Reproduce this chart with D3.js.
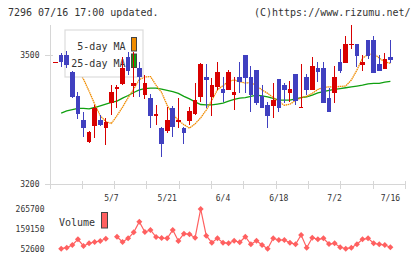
<!DOCTYPE html>
<html><head><meta charset="utf-8">
<script src="https://cdn.jsdelivr.net/npm/d3@7"></script>
<style>body{margin:0;background:#fff}svg{display:block}text{font-family:"DejaVu Sans Mono",monospace}</style>
</head><body><svg width="420" height="259"></svg>
<script>
const titleText = "7296 07/16 17:00 updated.";
const creditText = "(C)https://www.rizumu.net/";
const dates = ["4/18","4/21","4/22","4/23","4/24","4/25","4/28","4/30","5/1","5/2",
 "5/7","5/8","5/9","5/12","5/13","5/14","5/15","5/16","5/19","5/20",
 "5/21","5/22","5/23","5/26","5/27","5/28","5/29","5/30","6/2","6/3",
 "6/4","6/5","6/6","6/9","6/10","6/11","6/12","6/13","6/16","6/17",
 "6/18","6/19","6/20","6/23","6/24","6/25","6/26","6/27","6/30","7/1",
 "7/2","7/3","7/4","7/7","7/8","7/9","7/10","7/11","7/14","7/15","7/16"];
const open  = [3483,3500,3500,3461,3405,3349,3298,3334,3350,3330, 3388,3420,3433,3496,3429,3469,3407,3400,3359,3331,
 3323,3378,3345,3330,3347,3363,3403,3450,3403,3425, 3421,3419,3407,3450,3500,3450,3465,3405,3384,3382,
 3444,3430,3411,3456,3379,3450,3419,3470,3469,3401, 3412,3483,3482,3525,3526,3477,3535,3535,3479,3467,3495];
const high  = [3483,3505,3509,3463,3415,3368,3324,3384,3360,3353, 3430,3430,3495,3507,3508,3484,3453,3409,3384,3333,
 3380,3381,3401,3333,3380,3434,3481,3479,3446,3484, 3450,3465,3450,3484,3500,3475,3465,3430,3391,3434,
 3444,3434,3440,3456,3479,3457,3496,3484,3484,3423, 3474,3514,3544,3570,3526,3500,3535,3544,3500,3505,3535];
const low   = [3483,3472,3470,3400,3351,3310,3296,3307,3336,3290, 3360,3376,3430,3453,3403,3403,3398,3330,3337,3263,
 3318,3309,3330,3293,3337,3360,3390,3377,3359,3419, 3390,3419,3372,3411,3411,3368,3384,3377,3330,3354,
 3368,3388,3390,3384,3379,3407,3419,3438,3389,3368, 3389,3459,3482,3513,3473,3463,3490,3459,3463,3467,3481];
const close = [3483,3483,3477,3403,3364,3330,3322,3376,3338,3345, 3415,3426,3470,3464,3436,3448,3436,3359,3364,3293,
 3349,3333,3350,3319,3370,3395,3479,3443,3430,3461, 3412,3461,3415,3438,3447,3407,3389,3377,3359,3395,
 3377,3419,3421,3393,3379,3419,3475,3460,3389,3368, 3448,3463,3526,3525,3498,3484,3498,3459,3463,3490,3488];
const ma5 = [null,null,3479,3475,3465,3444,3416,3386,3359,3345, 3341,3359,3379,3401,3421,3443,3449,3450,3430,3413,
 3383,3363,3348,3338,3330,3340,3354,3372,3395,3419, 3429,3439,3442,3438,3435,3436,3428,3419,3411,3401,
 3392,3383,3386,3394,3401,3404,3411,3420,3425,3426, 3426,3427,3428,3442,3465,3493,3501,3504,3493,3484,3481];
const ma25 = [null,3365,3370,3373,3376,3376,3375,3378,3382,3386, 3390,3393,3400,3406,3413,3419,3422,3423,3423,3421,
 3418,3415,3411,3404,3398,3391,3385,3384,3384,3386, 3388,3393,3397,3400,3401,3404,3407,3405,3403,3399,
 3395,3395,3395,3398,3401,3403,3407,3412,3415,3418, 3420,3422,3424,3426,3428,3430,3433,3434,3434,3437,3439];
const volume = [null,52600,58000,72500,103000,67100,81600,88600,94000,106300, null,117000,88600,108400,140600,197500,142200,153000,115400,110000,
 108400,153000,94000,133100,129900,111600,265700,122400,84800,108400, 84800,81600,95500,87000,117000,76200,95500,72500,52600,108400,
 99300,99300,84800,76200,126100,58000,111600,103000,108400,77800, 81600,60100,52600,58000,76200,103000,108400,81600,76200,72500,60100];
const priceTicks = [3200, 3500];
const dateLabels = ["5/7","5/21","6/4","6/18","7/2","7/16"];
const legendNames = ["5-day MA","25-day MA"];

const svg = d3.select("svg");
const axisColor = "#d6d6d6", textColor = "#333";
const x = d3.scalePoint().domain(dates).range([55.6, 390.4]);
const y = d3.scaleLinear().domain([3200, 3570]).range([184, 25]);
const vMin = d3.min(volume), vMax = d3.max(volume);
const yv = d3.scaleLinear().domain([vMin, vMax]).range([248.7, 209]);
const tickPos = d3.scaleLinear().domain([0, 11]).range([50, 405.3]);

// header
svg.append("text").attr("x", 8).attr("y", 16).attr("font-size", 10).attr("fill", textColor).text(titleText);
svg.append("text").attr("x", 410.5).attr("y", 16).attr("font-size", 10).attr("fill", textColor).attr("text-anchor", "end").text(creditText);

// axes
const ax = svg.append("g").attr("stroke", axisColor).attr("shape-rendering", "crispEdges");
ax.append("line").attr("x1", 50).attr("x2", 50).attr("y1", 25).attr("y2", 189);
ax.append("line").attr("x1", 45).attr("x2", 405.3).attr("y1", y(3200)).attr("y2", y(3200));
ax.selectAll(".xt").data(d3.range(12)).join("line").attr("x1", d => tickPos(d)).attr("x2", d => tickPos(d)).attr("y1", 181).attr("y2", 189);
ax.selectAll(".yt").data(priceTicks).join("line").attr("x1", 45).attr("x2", 53).attr("y1", d => y(d)).attr("y2", d => y(d));
svg.selectAll(".yl").data(priceTicks).join("text").attr("x", 39.5).attr("y", d => y(d)).attr("dy", "0.35em")
  .attr("text-anchor", "end").attr("font-size", 8).attr("fill", textColor).text(d => d);
svg.selectAll(".xl").data(dateLabels).join("text").attr("x", d => x(d)).attr("y", 201)
  .attr("text-anchor", "middle").attr("font-size", 8).attr("fill", textColor).text(d => d);

// MA lines
const mkLine = arr => d3.line().defined(d => d != null).x((d, i) => x(dates[i])).y(d => y(d))(arr);
svg.append("path").attr("d", mkLine(ma25)).attr("fill", "none").attr("stroke", "#10a010").attr("stroke-width", 1.3);
svg.append("path").attr("d", mkLine(ma5)).attr("fill", "none").attr("stroke", "#f08c00").attr("stroke-width", 1.3).attr("stroke-dasharray", "1.5,0.6");

// legend
svg.append("rect").attr("x", 65).attr("y", 30).attr("width", 78).attr("height", 47).attr("fill", "#fff").attr("stroke", "#dcdcdc").attr("stroke-width", 1.2);
const legColors = ["#f08c00", "#10a010"];
legendNames.forEach((n, k) => {
  svg.append("text").attr("x", 125.5).attr("y", 50 + k * 17).attr("text-anchor", "end").attr("font-size", 10).attr("fill", textColor).text(n);
  svg.append("rect").attr("x", 131.5).attr("y", 37.5 + k * 16.5).attr("width", 5).attr("height", 13.5)
    .attr("fill", legColors[k]).attr("stroke", "#444").attr("stroke-width", 1);
});

// candles
const idx = d3.range(dates.length);
const cw = 4.6;
const cg = svg.append("g").attr("shape-rendering", "crispEdges");
cg.selectAll(".w").data(idx).join("line")
  .attr("x1", i => x(dates[i])).attr("x2", i => x(dates[i]))
  .attr("y1", i => y(high[i])).attr("y2", i => y(low[i]))
  .attr("stroke", i => close[i] >= open[i] ? "#d80000" : "#4040c0").attr("stroke-width", 1);
cg.selectAll(".b").data(idx).join("rect")
  .attr("x", i => x(dates[i]) - cw / 2).attr("width", cw)
  .attr("y", i => y(Math.max(open[i], close[i])))
  .attr("height", i => Math.max(1, y(Math.min(open[i], close[i])) - y(Math.max(open[i], close[i]))))
  .attr("fill", i => close[i] >= open[i] ? "#d80000" : "#4040c0");

// volume
const vColor = "#ff6060";
svg.append("path").attr("d", d3.line().defined(d => d != null).x((d, i) => x(dates[i])).y(d => yv(d))(volume))
  .attr("fill", "none").attr("stroke", vColor).attr("stroke-width", 1.2);
svg.selectAll(".vd").data(idx.filter(i => volume[i] != null)).join("path")
  .attr("transform", i => `translate(${x(dates[i])},${yv(volume[i])})`)
  .attr("d", "M0,-3L3,0L0,3L-3,0Z").attr("fill", vColor);
const vTicks = [vMax, (vMin + vMax) / 2, vMin];
svg.selectAll(".vl").data(vTicks).join("text").attr("x", 44.5).attr("y", d => yv(d)).attr("dy", "0.35em")
  .attr("text-anchor", "end").attr("font-size", 8).attr("fill", textColor).text(d => d);
svg.append("text").attr("x", 59).attr("y", 226).attr("font-size", 10).attr("fill", textColor).text("Volume");
svg.append("rect").attr("x", 101.5).attr("y", 212.5).attr("width", 6).attr("height", 15.5).attr("fill", vColor).attr("stroke", "#444");
</script></body></html>
